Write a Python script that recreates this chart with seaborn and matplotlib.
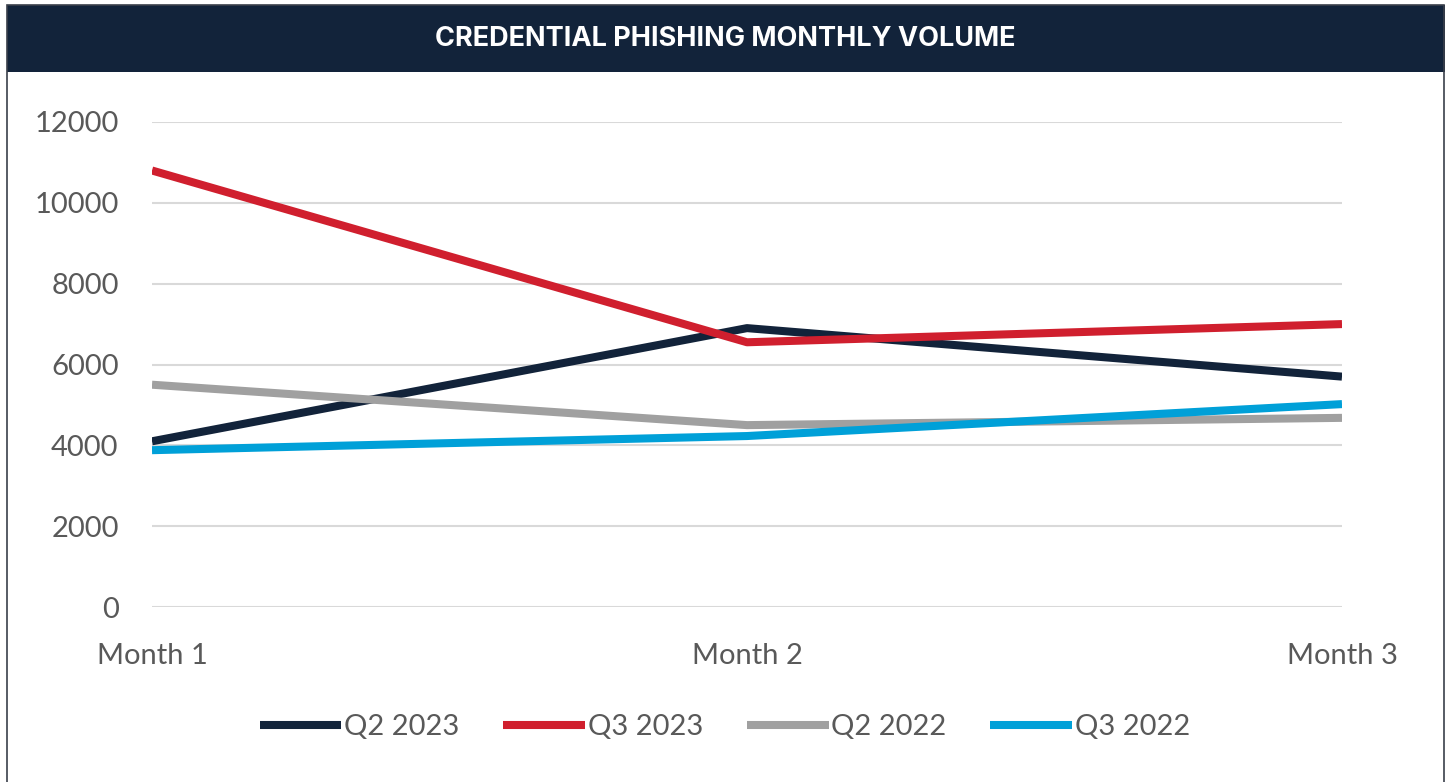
import matplotlib
matplotlib.use("Agg")
import matplotlib.pyplot as plt
from matplotlib.patches import Rectangle
import pandas as pd
import seaborn as sns

# ── data ─────────────────────────────────────
months = ["Month 1", "Month 2", "Month 3"]
series = ["Q2 2023", "Q3 2023", "Q2 2022", "Q3 2022"]
q2_2023 = [4100, 6900, 5700]
q3_2023 = [10800, 6550, 7000]
q2_2022 = [5500, 4500, 4680]
q3_2022 = [3880, 4230, 5020]
colors = ["#12233a", "#d01f2e", "#a0a0a0", "#00a0d8"]
y_ticks = [0, 2000, 4000, 6000, 8000, 10000, 12000]

rows = []
for name, vals in zip(series, [q2_2023, q3_2023, q2_2022, q3_2022]):
    for i, v in enumerate(vals):
        rows.append({"month": i, "series": name, "volume": v})
df = pd.DataFrame(rows)

sns.set_theme(style="white")
plt.rcParams["font.family"] = ["Lato", "DejaVu Sans"]

fig = plt.figure(figsize=(14.5, 7.82), dpi=100)
W, H = 1450, 782
ax = fig.add_axes([152 / W, 1 - 607 / H, (1342 - 152) / W, (607 - 122) / H])

sns.lineplot(data=df, x="month", y="volume", hue="series", hue_order=series,
             palette=colors, linewidth=5.8, ax=ax, legend=True,
             solid_capstyle="butt")

ax.set_xlim(0, 2)
ax.set_ylim(0, 12000)
ax.set_xticks(range(len(months)))
ax.set_xticklabels(months)
ax.set_yticks(y_ticks)
ax.set_yticklabels([str(t) for t in y_ticks])
ax.set_xlabel("")
ax.set_ylabel("")
ax.grid(axis="y", color="#d9d9d9", linewidth=1.5)
ax.set_axisbelow(True)
for s in ax.spines.values():
    s.set_visible(False)
ax.tick_params(axis="both", length=0, labelsize=21, colors="#595959")
ax.tick_params(axis="y", pad=24)
ax.tick_params(axis="x", pad=26)

# legend under the chart
ax.get_legend().remove()
handles, labels = ax.get_legend_handles_labels()
leg = fig.legend(handles, labels, loc="center", bbox_to_anchor=(0.5, 1 - 727 / H),
                 ncol=4, frameon=False, fontsize=21, handlelength=2.8,
                 handletextpad=0.1, columnspacing=1.5)
for line in leg.get_lines():
    line.set_linewidth(5.8)
for t in leg.get_texts():
    t.set_color("#595959")

# title bar + border
fig.patches.append(Rectangle((7 / W, 1 - 72 / H), (1445 - 7) / W, 67 / H,
                             transform=fig.transFigure, facecolor="#12233a",
                             edgecolor="none", zorder=0))
fig.patches.append(Rectangle((7 / W, -0.02), (1444 - 7) / W, 1 - 5 / H + 0.02,
                             transform=fig.transFigure, facecolor="none",
                             edgecolor="#3a3f4a", linewidth=1.2, zorder=1))
fig.text(0.5, 1 - 39 / H, "CREDENTIAL PHISHING MONTHLY VOLUME", color="white",
         fontsize=19.5, fontweight="bold", ha="center", va="center",
         family=["Inter", "DejaVu Sans"])

fig.savefig("out.png", dpi=100)
